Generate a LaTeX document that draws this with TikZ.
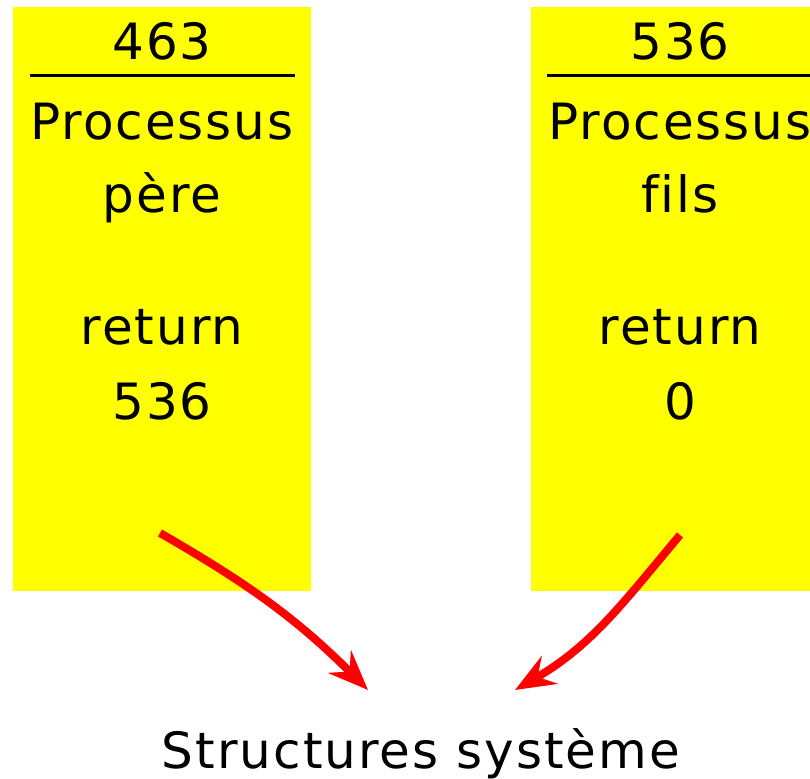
\documentclass[tikz,border=0pt]{standalone}
\usepackage{fontspec}
\setsansfont{DejaVu Sans}[Ligatures=NoCommon, LetterSpace=4]
\usetikzlibrary{arrows.meta}

\definecolor{procyellow}{RGB}{255,255,0}

\begin{document}
\begin{tikzpicture}[
    proc/.style={
        rectangle, fill=procyellow, inner sep=0pt,
        minimum width=5.237cm, minimum height=10.263cm},
    txt/.style={
        anchor=base, inner sep=0pt,
        font=\fontsize{25}{30}\selectfont\sffamily},
    sep/.style={line width=1.5pt},
    arr/.style={-{Stealth[length=20pt, width=16pt, inset=7pt]},
        red, line width=4pt}
]
\useasboundingbox (0,0) rectangle (14.234,13.689);

%% ── Process boxes ───────────────────────────────────────────────
\node[proc] (pere) at (2.847, 8.435) {};
\node[proc] (fils) at (11.95, 8.435) {};

%% ── Separators under the PIDs ───────────────────────────────────
\draw[sep] (0.527, 12.354) -- (5.184, 12.354);
\draw[sep] (9.612, 12.354) -- (14.27, 12.354);

%% ── Parent process ──────────────────────────────────────────────
\node[txt] (pid_p)  at (2.847, 12.635) {463};
\node[txt] (nom_p)  at (2.847, 11.229) {Processus};
\node[txt] (role_p) at (2.847,  9.946) {père};
\node[txt] (ret_p)  at (2.847,  7.627) {return};
\node[txt] (val_p)  at (2.847,  6.309) {536};

%% ── Child process ───────────────────────────────────────────────
\node[txt] (pid_f)  at (11.95, 12.635) {536};
\node[txt] (nom_f)  at (11.95, 11.229) {Processus};
\node[txt] (role_f) at (11.95,  9.946) {fils};
\node[txt] (ret_f)  at (11.95,  7.627) {return};
\node[txt] (val_f)  at (11.95,  6.309) {0};

%% ── System structures ───────────────────────────────────────────
\node[txt] (sys) at (7.398, 0.193) {Structures système};

%% ── Arrows into the system ──────────────────────────────────────
\coordinate (out_p) at (2.812, 4.323);
\coordinate (in_p)  at (6.467, 1.564);
\coordinate (out_f) at (11.95, 4.288);
\coordinate (in_f)  at (9.050, 1.564);

\draw[arr] (out_p) to[out=-30, in=135] (in_p);
\draw[arr] (out_f) to[out=-130, in=30] (in_f);

\end{tikzpicture}
\end{document}
